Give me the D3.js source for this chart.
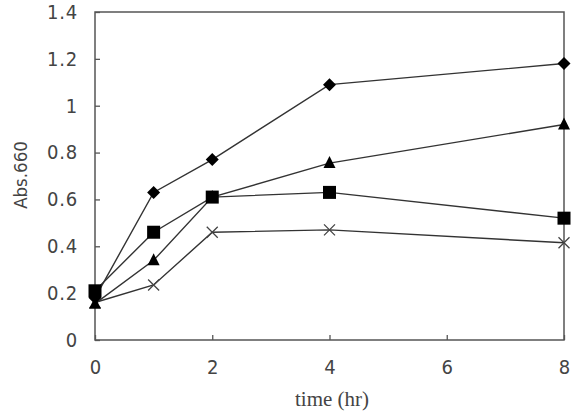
<!DOCTYPE html>
<html>
<head>
<meta charset="utf-8">
<script src="https://cdn.jsdelivr.net/npm/d3@7"></script>
<style>
  body { margin: 0; background: #fff; }
  svg text { fill: #444; }
</style>
</head>
<body>
<svg id="chart" width="578" height="412"></svg>
<script>
// time points (hr)
const hours = [0, 1, 2, 4, 8];
// Abs.660 per series
const diamondVals = [0.18, 0.63, 0.77, 1.09, 1.18];
const squareVals = [0.21, 0.46, 0.61, 0.63, 0.52];
const triangleVals = [0.155, 0.34, 0.61, 0.755, 0.92];
const crossVals = [0.16, 0.235, 0.46, 0.47, 0.415];
const xTicks = [0, 2, 4, 6, 8];
const yTicks = [0, 0.2, 0.4, 0.6, 0.8, 1, 1.2, 1.4];

const svg = d3.select('#chart');
const pL = 95, pR = 564, pT = 12, pB = 340;

const x = d3.scaleLinear().domain([0, 8]).range([pL, pR]);
const y = d3.scaleLinear().domain([0, 1.4]).range([pB, pT]);

const lineCol = '#333';
const tickFont = '"Liberation Sans Narrow", "DejaVu Sans Condensed", sans-serif';

// frame
svg.append('rect')
    .attr('x', pL).attr('y', pT)
    .attr('width', pR - pL).attr('height', pB - pT)
    .attr('fill', 'none').attr('stroke', '#555').attr('stroke-width', 1.5);

// y axis (ticks inward)
const yAxis = svg.append('g')
    .attr('transform', `translate(${pL},0)`)
    .call(d3.axisLeft(y).tickValues(yTicks).tickSizeInner(-5).tickSizeOuter(0).tickPadding(17)
        .tickFormat(d => String(+d.toFixed(1))));
yAxis.select('.domain').remove();
yAxis.selectAll('line').attr('stroke', '#555').attr('stroke-width', 1.3);
yAxis.selectAll('text').attr('font-family', tickFont).attr('font-size', 20)
    .attr('letter-spacing', 0.8).attr('fill', '#444');

// x axis (ticks inward)
const xAxis = svg.append('g')
    .attr('transform', `translate(0,${pB})`)
    .call(d3.axisBottom(x).tickValues(xTicks).tickSizeInner(-5).tickSizeOuter(0).tickPadding(20));
xAxis.select('.domain').remove();
xAxis.selectAll('line').attr('stroke', '#555').attr('stroke-width', 1.3);
xAxis.selectAll('text').attr('font-family', tickFont).attr('font-size', 20).attr('fill', '#444');

// axis titles
svg.append('text')
    .attr('transform', 'translate(27,175) rotate(-90)')
    .attr('text-anchor', 'middle')
    .attr('font-family', tickFont).attr('font-size', 18.5)
    .text('Abs.660');
svg.append('text')
    .attr('x', 332).attr('y', 406)
    .attr('text-anchor', 'middle')
    .attr('font-family', '"Liberation Serif", serif').attr('font-size', 21)
    .text('time (hr)');

const line = d3.line().x((d, i) => x(hours[i])).y(d => y(d));

const series = [
    {vals: crossVals, shape: 'cross'},
    {vals: triangleVals, shape: 'triangle'},
    {vals: squareVals, shape: 'square'},
    {vals: diamondVals, shape: 'diamond'}
];

series.forEach(s => {
    svg.append('path')
        .attr('d', line(s.vals))
        .attr('fill', 'none')
        .attr('stroke', lineCol)
        .attr('stroke-width', 1.4);
});

series.forEach(s => {
    const g = svg.append('g');
    s.vals.forEach((v, i) => {
        const cx = x(hours[i]), cy = y(v);
        if (s.shape === 'square') {
            g.append('rect').attr('x', cx - 6.5).attr('y', cy - 6.5)
                .attr('width', 13).attr('height', 13).attr('fill', '#000');
        } else if (s.shape === 'diamond') {
            g.append('path').attr('d', `M${cx},${cy - 6.5}L${cx + 6.5},${cy}L${cx},${cy + 6.5}L${cx - 6.5},${cy}Z`)
                .attr('fill', '#000');
        } else if (s.shape === 'triangle') {
            g.append('path').attr('d', `M${cx},${cy - 7}L${cx + 6},${cy + 5}L${cx - 6},${cy + 5}Z`)
                .attr('fill', '#000');
        } else {
            g.append('path').attr('d', `M${cx - 5.5},${cy - 5.5}L${cx + 5.5},${cy + 5.5}M${cx - 5.5},${cy + 5.5}L${cx + 5.5},${cy - 5.5}`)
                .attr('stroke', '#444').attr('stroke-width', 1.3);
        }
    });
});
</script>
</body>
</html>
